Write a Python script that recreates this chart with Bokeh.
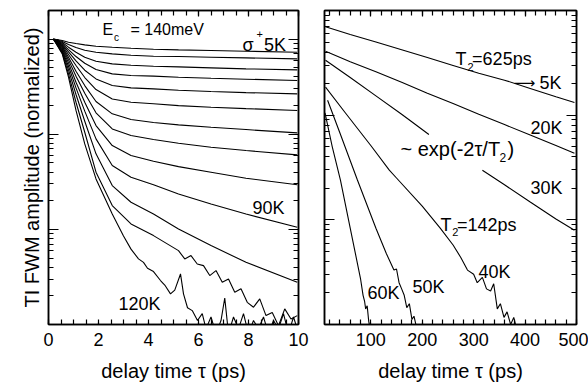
import math
from bokeh.plotting import figure
from bokeh.layouts import row
from bokeh.models import (LinearAxis, LogAxis, FixedTicker, SingleIntervalTicker,
                          Range1d, CustomJSTickFormatter, Title)
from bokeh.embed import file_html
from bokeh.resources import INLINE
from bokeh.core.properties import value

FONT = "Liberation Sans"

# ---------------- left panel: delay time (ps) vs normalized TI FWM amplitude
left_t = [0.2, 0.55, 0.8, 1.1, 1.45, 1.9, 2.55, 3.3, 4.2, 5.2, 6.5, 7.9, 9.95]
amp_5K = [1.0, 0.967, 0.929, 0.899, 0.870, 0.843, 0.823, 0.803, 0.784, 0.771, 0.759, 0.747, 0.729]
amp_10K = [1.0, 0.944, 0.877, 0.816, 0.765, 0.729, 0.700, 0.678, 0.661, 0.656, 0.646, 0.635, 0.620]
amp_20K = [1.0, 0.921, 0.823, 0.729, 0.646, 0.586, 0.549, 0.532, 0.519, 0.511, 0.499, 0.487, 0.475]
amp_30K = [1.0, 0.899, 0.777, 0.656, 0.558, 0.479, 0.431, 0.414, 0.408, 0.398, 0.388, 0.379, 0.367]
amp_40K = [1.0, 0.877, 0.735, 0.591, 0.471, 0.382, 0.325, 0.307, 0.300, 0.290, 0.281, 0.274, 0.266]
amp_50K = [1.0, 0.856, 0.689, 0.528, 0.395, 0.295, 0.235, 0.217, 0.209, 0.200, 0.192, 0.186, 0.178]
amp_60K = [1.0, 0.836, 0.646, 0.460, 0.325, 0.221, 0.164, 0.143, 0.133, 0.1255, 0.1186, 0.112, 0.1033]
amp_70K = [1.0, 0.816, 0.605, 0.408, 0.270, 0.168, 0.1138, 0.0969, 0.0880, 0.0805, 0.0730, 0.0674, 0.0607]
amp_80K = [1.0, 0.790, 0.563, 0.352, 0.217, 0.1235, 0.0761, 0.0597, 0.0520, 0.0457, 0.0399, 0.0345, 0.0294]
amp_90K = [1.0, 0.765, 0.519, 0.307, 0.175, 0.0894, 0.0469, 0.0353, 0.0294, 0.0236, 0.0185, 0.0145, 0.01053]
amp_100K = [1.0, 0.741, 0.475, 0.262, 0.137, 0.0622, 0.0289, 0.0193, 0.0145, 0.0101, 0.00676, 0.00451, 0.00278]

t_110K = [0.2, 0.55, 0.8, 1.1, 1.45, 1.9, 2.55, 3.3, 4.2, 5.2, 5.45, 5.7, 5.95, 6.2, 6.45,
          6.7, 6.95, 7.2, 7.45, 7.7, 7.95, 8.2, 8.45, 8.7, 8.95, 9.2, 9.45, 9.7, 9.95]
amp_110K = [1.0, 0.717, 0.431, 0.217, 0.105, 0.0399, 0.0178, 0.0114, 0.0086, 0.00598, 0.00489,
            0.0053, 0.00433, 0.00416, 0.00327, 0.00369, 0.00278, 0.00301, 0.00218, 0.00237,
            0.00171, 0.00152, 0.00186, 0.00124, 0.00134, 0.00097, 0.00146, 0.00114, 0.00124]

t_120K = [0.2, 0.55, 0.8, 1.1, 1.45, 1.9, 2.55, 3.0, 3.3, 3.6, 3.8, 3.96, 4.2, 4.48, 4.65, 4.88,
          5.05, 5.28, 5.4, 5.56, 5.75, 5.96, 6.15, 6.3, 6.5, 6.7, 6.9, 7.05, 7.2, 7.4, 7.6, 7.8,
          8.0, 8.2, 8.4, 8.6, 8.8, 9.0, 9.2, 9.4, 9.6, 9.8, 9.95]
amp_120K = [1.0, 0.70, 0.398, 0.178, 0.0792, 0.0339, 0.0145, 0.0085, 0.0062, 0.0049, 0.0045,
            0.0039, 0.0036, 0.0029, 0.0026, 0.0021, 0.0023, 0.0034, 0.0021, 0.0015, 0.0014,
            0.0011, 0.0013, 0.0009, 0.0012, 0.0008, 0.0011, 0.0019, 0.0008, 0.0012, 0.0009,
            0.0013, 0.0008, 0.0011, 0.0009, 0.0012, 0.0008, 0.0011, 0.0009, 0.0013, 0.0008,
            0.0012, 0.0009]

# ---------------- right panel: long delay decays
r_t_5K = [12, 60, 110, 160, 210, 260, 310, 360, 410, 460, 496]
r_amp_5K = [0.700, 0.589, 0.501, 0.422, 0.355, 0.2985, 0.251, 0.216, 0.180, 0.150, 0.132]
r_t_20K = [12, 60, 110, 160, 210, 260, 310, 360, 410, 460, 496]
r_amp_20K = [0.407, 0.324, 0.260, 0.2065, 0.162, 0.129, 0.102, 0.0813, 0.0646, 0.0513, 0.0432]
r_t_30K = [12, 60, 110, 160, 213, float("nan"), 317, 360, 410, 460, 496]
r_amp_30K = [0.335, 0.229, 0.153, 0.102, 0.0653, float("nan"), 0.0298, 0.0216, 0.0148, 0.0102, 0.00794]
r_t_40K = [12, 50, 100, 136, 150, 200, 235, 260, 275, 288, 300, 307, 317, 325, 333, 339, 346,
           352, 359, 365, 372, 378, 384]
r_amp_40K = [0.185, 0.106, 0.0513, 0.0298, 0.0251, 0.0135, 0.00832, 0.00575, 0.00437, 0.00331,
             0.00302, 0.00251, 0.00282, 0.00219, 0.00209, 0.00245, 0.00141, 0.00158, 0.00117,
             0.00132, 0.00100, 0.00117, 0.00089]
r_t_50K = [16, 40, 74, 110, 130, 145, 150, 155, 160, 165, 170, 175, 180, 184, 190]
r_amp_50K = [0.139, 0.0676, 0.024, 0.00832, 0.00479, 0.00331, 0.00339, 0.00251, 0.00219, 0.0019,
             0.00145, 0.00158, 0.00112, 0.0012, 0.00089]
r_t_60K = [11, 25, 41, 60, 80, 85, 88, 90, 93, 96, 99]
r_amp_60K = [0.105, 0.0501, 0.024, 0.00832, 0.00275, 0.0019, 0.00166, 0.00141, 0.00151, 0.00107, 0.00089]

x_label = "delay time \u03c4 (ps)"
y_label = "TI FWM amplitude (normalized)"

log_major = [1e-3, 1e-2, 1e-1, 1.0]
log_minor = [m * 10.0 ** k for k in range(-3, 1) for m in range(2, 10)]

BLANK = CustomJSTickFormatter(code="return ''")


def style_axes(p, xticker):
    yt = FixedTicker(ticks=log_major, minor_ticks=log_minor)
    for ax in p.xaxis:
        ax.ticker = xticker
        ax.major_label_text_font = FONT
        ax.major_label_text_font_size = "18px"
        ax.major_label_standoff = 8
        ax.axis_label = x_label
        ax.axis_label_text_font = FONT
        ax.axis_label_text_font_size = "20px"
        ax.axis_label_text_font_style = "normal"
        ax.axis_label_standoff = 11
    for ax in p.yaxis:
        ax.ticker = yt
        ax.formatter = BLANK
        ax.major_label_standoff = 0
    top = LinearAxis(ticker=xticker, formatter=BLANK)
    right = LogAxis(ticker=yt, formatter=BLANK)
    p.add_layout(top, "above")
    p.add_layout(right, "right")
    for ax in p.axis:
        ax.axis_line_width = 1.5
        ax.axis_line_color = "black"
        ax.major_tick_line_color = "black"
        ax.minor_tick_line_color = "black"
        ax.major_tick_line_width = 1.2
        ax.minor_tick_line_width = 1.2
        ax.major_tick_out = 0
        ax.minor_tick_out = 0
        ax.minor_tick_in = 5
        ax.major_label_text_color = "black"
        ax.axis_label_text_color = "black"
    for ax in [p.xaxis[0], top]:
        ax.major_tick_in = 6
        ax.minor_tick_in = 5
    for ax in [p.yaxis[0], right]:
        ax.major_tick_in = 10
        ax.minor_tick_in = 5
    top.major_label_standoff = 0
    right.major_label_standoff = 0


def add_text(p, x, y, s, size, align="left", font=FONT):
    p.text(x=[x], y=[y], text=[s], text_font=value(font), text_font_size=value(size),
           text_align=align, text_baseline="alphabetic", text_color="black")


common = dict(y_axis_type="log", frame_height=314, min_border_top=10, min_border_bottom=65,
              output_backend="svg", toolbar_location=None, background_fill_color="white",
              border_fill_color="white")

# ---------------- left figure
p1 = figure(x_range=Range1d(0, 10), y_range=Range1d(1e-3, 2), frame_width=250,
            min_border_left=48, min_border_right=12, **common)
p1.grid.visible = False
p1.outline_line_color = "black"
p1.outline_line_width = 1.5
style_axes(p1, SingleIntervalTicker(interval=2, num_minor_ticks=4))

p1.add_layout(Title(text=y_label, align="center", offset=-11, standoff=12,
                    text_font=FONT, text_font_size="20px", text_font_style="normal",
                    text_color="black"), "left")

for a in [amp_5K, amp_10K, amp_20K, amp_30K, amp_40K, amp_50K, amp_60K, amp_70K,
          amp_80K, amp_90K, amp_100K]:
    p1.line(left_t, a, line_color="black", line_width=1.1)
p1.line(t_110K, amp_110K, line_color="black", line_width=1.1)
p1.line(t_120K, amp_120K, line_color="black", line_width=1.1)

add_text(p1, 2.16, 1.262, "E", "16px")
add_text(p1, 2.62, 1.05, "c", "10px")
add_text(p1, 3.28, 1.262, "= 140meV", "16px")
add_text(p1, 7.76, 0.877, "\u03c3", "18px")
add_text(p1, 8.32, 1.145, "+", "11px")
add_text(p1, 8.62, 0.877, "5K", "18px")
add_text(p1, 8.16, 0.01695, "90K", "18px")
add_text(p1, 2.8, 0.00166, "120K", "18px")

# ---------------- right figure
p2 = figure(x_range=Range1d(10, 500), y_range=Range1d(1e-3, 1), frame_width=252,
            min_border_left=14, min_border_right=12, **common)
p2.grid.visible = False
p2.outline_line_color = "black"
p2.outline_line_width = 1.5
style_axes(p2, SingleIntervalTicker(interval=100, num_minor_ticks=5))

for tt, a in [(r_t_5K, r_amp_5K), (r_t_20K, r_amp_20K), (r_t_30K, r_amp_30K),
              (r_t_40K, r_amp_40K), (r_t_50K, r_amp_50K), (r_t_60K, r_amp_60K)]:
    p2.line(tt, a, line_color="black", line_width=1.1)

add_text(p2, 264.7, 0.3477, "T", "18px")
add_text(p2, 288.0, 0.2874, "2", "11px")
add_text(p2, 297.0, 0.3477, "=625ps", "18px")
add_text(p2, 378.0, 0.2008, "\u27f6", "15px", font="DejaVu Sans")
add_text(p2, 428.0, 0.2008, "5K", "18px")
add_text(p2, 410.5, 0.0746, "20K", "18px")
add_text(p2, 157.8, 0.0470, "~ exp(-2\u03c4/T", "20px")
add_text(p2, 350.3, 0.0394, "2", "12px")
add_text(p2, 365.8, 0.0470, ")", "20px")
add_text(p2, 410.5, 0.01995, "30K", "18px")
add_text(p2, 235.6, 0.00883, "T", "18px")
add_text(p2, 258.5, 0.00760, "2", "11px")
add_text(p2, 267.5, 0.00883, "=142ps", "18px")
add_text(p2, 309.4, 0.00314, "40K", "18px")
add_text(p2, 181.1, 0.00226, "50K", "18px")
add_text(p2, 93.6, 0.00202, "60K", "18px")

layout = row(p1, p2)
open("out.html", "w").write(file_html(layout, INLINE))
